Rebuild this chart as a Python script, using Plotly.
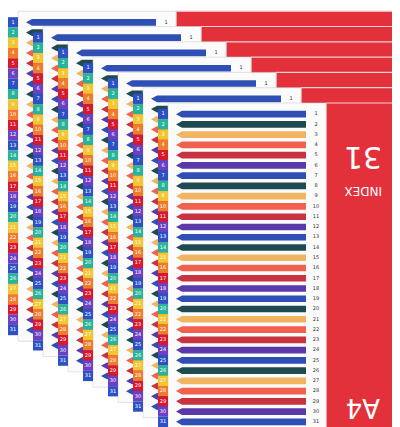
import plotly.graph_objects as go

# tab numbers and colour cycles
tab_numbers = list(range(1, 32))
tab_colors = ["#2d50c4", "#27b49a", "#f3c531", "#f07b2b", "#d8182c", "#6b40c4"]
stripe_colors = ["#2f4fb5", "#1f4b50", "#f1b463", "#f2604e", "#c9323f", "#5a3aa9"]
sheet_offsets = [6, 5, 4, 3, 2, 1, 0]  # back to front

W, H = 400, 427
fig = go.Figure()


def poly(xs, ys, color, line=None, lw=0.6):
    fig.add_trace(go.Scatter(x=xs + [xs[0]], y=ys + [ys[0]], fill="toself",
                             fillcolor=color, mode="lines",
                             line=dict(width=lw if line else 0, color=line or color),
                             hoverinfo="skip", showlegend=False))


for k in sheet_offsets:
    left = 150 - 25 * k
    top = 95 - 15.3 * k
    bottom = top + 330
    red_l = left + 168
    # red cover panel
    poly([red_l, 397 - k, 397 - k, red_l], [top, top, bottom, bottom], "#e2313b", "#f4d0d0", 1.2)
    # white page
    poly([left + 10, red_l, red_l, left + 10], [top, top, bottom, bottom], "#fbfbfb", "#d0d0d0")
    row_h = (bottom - top - 12) / 31
    xs_num, ys_num, tx = [], [], []
    for i, n in enumerate(tab_numbers):
        y0 = top + 6 + i * row_h
        tc = tab_colors[i % 6]
        sc = stripe_colors[i % 6]
        poly([left, left + 10, left + 10, left], [y0, y0, y0 + row_h, y0 + row_h], tc)
        poly([left + 24, left + 18, left + 24, red_l - 20, red_l - 20],
             [y0 + 1.8, y0 + row_h / 2, y0 + row_h - 1.8, y0 + row_h - 1.8, y0 + 1.8], sc)
        xs_num.append(red_l - 10)
        ys_num.append(y0 + row_h / 2)
        tx.append(str(n))
    fig.add_trace(go.Scatter(x=xs_num, y=ys_num, text=tx, mode="text",
                             textfont=dict(size=5, color="#333", family="DejaVu Sans"),
                             hoverinfo="skip", showlegend=False))
    fig.add_trace(go.Scatter(x=[left + 5] * 31, y=ys_num, text=tx, mode="text",
                             textfont=dict(size=5, color="#ffffff", family="DejaVu Sans"),
                             hoverinfo="skip", showlegend=False))

# punch holes on the front cover
hole_y = [130, 145, 170, 197, 222, 263, 305, 330, 355, 380, 395, 405]
fig.add_trace(go.Scatter(x=[388] * len(hole_y), y=hole_y, mode="markers",
                         marker=dict(size=5, color="white"), hoverinfo="skip", showlegend=False))

for txt, y, size in [("31", 150, 30), ("INDEX", 183, 12), ("A4", 400, 26)]:
    fig.add_annotation(x=355, y=y, text=txt, showarrow=False, textangle=180,
                       font=dict(size=size, color="white", family="DejaVu Sans"))

fig.update_layout(
    width=W, height=H, margin=dict(l=0, r=0, t=0, b=0),
    paper_bgcolor="white", plot_bgcolor="white",
    xaxis=dict(range=[0, W], visible=False, fixedrange=True),
    yaxis=dict(range=[H, 0], visible=False, fixedrange=True),
)
fig.write_html("out.html")
